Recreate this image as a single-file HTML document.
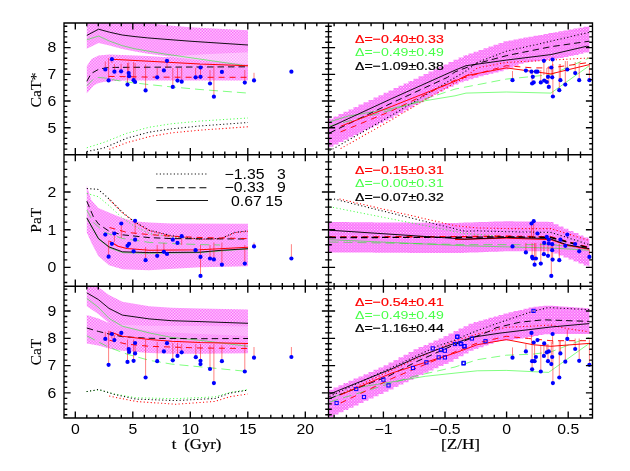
<!DOCTYPE html>
<html><head><meta charset="utf-8"><title>CaT indices</title>
<style>html,body{margin:0;padding:0;background:#fff;}body{width:630px;height:471px;overflow:hidden;font-family:"Liberation Sans",sans-serif;}svg{display:block;will-change:transform;}</style>
</head><body>
<svg width="630" height="471" viewBox="0 0 630 471">
<defs>
<pattern id="h" width="2.9" height="2.9" patternUnits="userSpaceOnUse"><rect width="2.9" height="2.9" fill="#ffdaff"/><rect x="0" y="0" width="1.45" height="1.45" fill="#f95ff9"/><rect x="1.45" y="1.45" width="1.45" height="1.45" fill="#f95ff9"/></pattern>
<pattern id="h2" width="2.9" height="2.9" patternUnits="userSpaceOnUse"><rect width="2.9" height="2.9" fill="#fa5cfa"/><rect x="0" y="0" width="1.2" height="1.2" fill="#ffe4ff"/><rect x="1.45" y="1.45" width="1.2" height="1.2" fill="#ffe4ff"/></pattern>
<clipPath id="cTL"><rect x="64.0" y="23.0" width="264.5" height="131.7"/></clipPath>
<clipPath id="cTR"><rect x="328.5" y="23.0" width="264.0" height="131.7"/></clipPath>
<clipPath id="cML"><rect x="64.0" y="154.7" width="264.5" height="131.5"/></clipPath>
<clipPath id="cMR"><rect x="328.5" y="154.7" width="264.0" height="131.5"/></clipPath>
<clipPath id="cBL"><rect x="64.0" y="286.2" width="264.5" height="131.8"/></clipPath>
<clipPath id="cBR"><rect x="328.5" y="286.2" width="264.0" height="131.8"/></clipPath>
</defs>
<g clip-path="url(#cTL)">
<polygon points="86.8,20.0 140.0,20.0 152.0,23.6 170.0,25.4 190.0,27.2 248.0,30.3 248.0,80.6 200.0,80.6 149.0,80.6 127.0,80.6 115.0,80.9 104.6,81.8 98.0,83.3 93.4,85.8 86.8,93.6 86.8,66.0 91.6,59.0 98.6,55.4 109.5,54.5 122.2,54.9 135.0,55.4 147.7,56.1 164.0,57.0 172.0,56.6 164.0,55.8 147.7,53.8 135.0,51.6 122.2,49.0 109.5,45.6 98.6,43.0 86.8,48.8" fill="url(#h)" />
<polygon points="166.0,56.6 200.0,54.6 248.0,52.2 248.0,64.2 200.0,60.2" fill="#ffffff" opacity="0.38"/>
<polyline points="86.8,35.4 98.6,29.2 109.5,32.2 122.2,35.0 135.0,36.6 147.7,37.9 164.0,39.2 190.0,41.2 248.0,45.0" fill="none" stroke="#000000" stroke-width="0.92" />
<polyline points="86.8,39.8 98.6,36.0 109.5,41.1 122.2,45.6 135.0,48.8 147.7,51.0 164.0,53.9 248.0,66.0" fill="none" stroke="#00ff00" stroke-width="0.5" />
<polyline points="86.8,81.3 91.2,73.5 98.3,69.5 105.7,67.8 115.7,67.4 150.0,67.2 200.0,67.0 248.0,66.8" fill="none" stroke="#000000" stroke-width="0.95" stroke-dasharray="6.5 4" />
<polyline points="86.8,85.8 93.4,79.1 98.3,77.5 105.0,78.0 115.7,80.2 126.9,82.0 149.2,84.6 171.5,86.9 200.0,89.5 248.0,93.1" fill="none" stroke="#00ff00" stroke-width="0.5" stroke-dasharray="9 5" />
<polyline points="108.6,76.4 150.0,77.1 200.0,77.3 248.0,77.3" fill="none" stroke="#ff0000" stroke-width="0.95" stroke-dasharray="6 5" />
<polyline points="112.0,59.2 149.2,61.2 200.0,64.1 248.0,65.7" fill="none" stroke="#ff0000" stroke-width="1.05" />
<polyline points="86.8,147.8 104.4,142.2 126.7,133.3 148.9,127.3 171.1,123.8 199.6,121.1 248.0,118.0" fill="none" stroke="#00ff00" stroke-width="0.75" stroke-dasharray="1.1 2.4" />
<polyline points="86.8,151.6 104.4,147.8 126.7,138.2 148.9,132.2 171.1,128.9 199.6,126.0 248.0,122.5" fill="none" stroke="#000000" stroke-width="1.05" stroke-dasharray="1.1 2.4" />
<polyline points="109.3,149.3 126.7,142.7 148.9,136.7 171.1,132.9 199.6,130.2 248.0,126.8" fill="none" stroke="#ff0000" stroke-width="1.05" stroke-dasharray="1.1 2.4" />
<line x1="105.3" y1="61.5" x2="105.3" y2="69.5" stroke="#ff0000" stroke-width="0.7" stroke-opacity="0.7"/>
<line x1="108.6" y1="58.0" x2="108.6" y2="80.4" stroke="#ff0000" stroke-width="0.7" stroke-opacity="0.7"/>
<line x1="111.9" y1="59.2" x2="111.9" y2="63.0" stroke="#ff0000" stroke-width="0.7" stroke-opacity="0.7"/>
<line x1="114.4" y1="64.0" x2="114.4" y2="71.7" stroke="#ff0000" stroke-width="0.7" stroke-opacity="0.7"/>
<line x1="121.1" y1="64.0" x2="121.1" y2="71.3" stroke="#ff0000" stroke-width="0.7" stroke-opacity="0.7"/>
<line x1="128.7" y1="62.5" x2="128.7" y2="76.2" stroke="#ff0000" stroke-width="0.7" stroke-opacity="0.7"/>
<line x1="127.5" y1="63.0" x2="127.5" y2="84.6" stroke="#ff0000" stroke-width="0.7" stroke-opacity="0.7"/>
<line x1="133.6" y1="62.0" x2="133.6" y2="80.2" stroke="#ff0000" stroke-width="0.7" stroke-opacity="0.7"/>
<line x1="135.1" y1="63.0" x2="135.1" y2="82.0" stroke="#ff0000" stroke-width="0.7" stroke-opacity="0.7"/>
<line x1="145.6" y1="64.5" x2="145.6" y2="90.4" stroke="#ff0000" stroke-width="0.7" stroke-opacity="0.7"/>
<line x1="157.2" y1="68.0" x2="157.2" y2="77.3" stroke="#ff0000" stroke-width="0.7" stroke-opacity="0.7"/>
<line x1="167.0" y1="60.8" x2="167.0" y2="68.0" stroke="#ff0000" stroke-width="0.7" stroke-opacity="0.7"/>
<line x1="172.8" y1="68.0" x2="172.8" y2="86.9" stroke="#ff0000" stroke-width="0.7" stroke-opacity="0.7"/>
<line x1="177.5" y1="68.0" x2="177.5" y2="80.6" stroke="#ff0000" stroke-width="0.7" stroke-opacity="0.7"/>
<line x1="181.7" y1="68.0" x2="181.7" y2="81.7" stroke="#ff0000" stroke-width="0.7" stroke-opacity="0.7"/>
<line x1="195.6" y1="68.0" x2="195.6" y2="77.3" stroke="#ff0000" stroke-width="0.7" stroke-opacity="0.7"/>
<line x1="200.5" y1="67.5" x2="200.5" y2="76.8" stroke="#ff0000" stroke-width="0.7" stroke-opacity="0.7"/>
<line x1="210.0" y1="70.0" x2="210.0" y2="83.5" stroke="#ff0000" stroke-width="0.7" stroke-opacity="0.7"/>
<line x1="213.9" y1="65.7" x2="213.9" y2="96.7" stroke="#ff0000" stroke-width="0.7" stroke-opacity="0.7"/>
<line x1="244.8" y1="70.0" x2="244.8" y2="82.6" stroke="#ff0000" stroke-width="0.7" stroke-opacity="0.7"/>
<line x1="254.0" y1="72.8" x2="254.0" y2="80.4" stroke="#ff0000" stroke-width="0.7" stroke-opacity="0.7"/>
<circle cx="111.9" cy="59.2" r="2.1" fill="#0000ff"/>
<circle cx="105.3" cy="69.5" r="2.1" fill="#0000ff"/>
<circle cx="108.6" cy="80.4" r="2.1" fill="#0000ff"/>
<circle cx="114.4" cy="71.7" r="2.1" fill="#0000ff"/>
<circle cx="121.1" cy="71.3" r="2.1" fill="#0000ff"/>
<circle cx="128.7" cy="73.1" r="2.1" fill="#0000ff"/>
<circle cx="129.1" cy="76.2" r="2.1" fill="#0000ff"/>
<circle cx="127.5" cy="84.6" r="2.1" fill="#0000ff"/>
<circle cx="133.6" cy="80.2" r="2.1" fill="#0000ff"/>
<circle cx="135.1" cy="82.0" r="2.1" fill="#0000ff"/>
<circle cx="145.6" cy="90.4" r="2.1" fill="#0000ff"/>
<circle cx="157.2" cy="77.3" r="2.1" fill="#0000ff"/>
<circle cx="163.9" cy="70.4" r="2.1" fill="#0000ff"/>
<circle cx="167.0" cy="60.8" r="2.1" fill="#0000ff"/>
<circle cx="172.8" cy="86.9" r="2.1" fill="#0000ff"/>
<circle cx="177.5" cy="80.6" r="2.1" fill="#0000ff"/>
<circle cx="181.7" cy="81.7" r="2.1" fill="#0000ff"/>
<circle cx="195.6" cy="77.3" r="2.1" fill="#0000ff"/>
<circle cx="200.5" cy="67.5" r="2.1" fill="#0000ff"/>
<circle cx="200.5" cy="76.8" r="2.1" fill="#0000ff"/>
<circle cx="210.0" cy="83.5" r="2.1" fill="#0000ff"/>
<circle cx="213.9" cy="96.7" r="2.1" fill="#0000ff"/>
<circle cx="221.9" cy="71.9" r="2.1" fill="#0000ff"/>
<circle cx="244.8" cy="82.6" r="2.1" fill="#0000ff"/>
<circle cx="254.0" cy="80.4" r="2.1" fill="#0000ff"/>
<circle cx="291.4" cy="71.7" r="2.1" fill="#0000ff"/>
</g>
<g clip-path="url(#cTR)">
<path d="M328.5,118.8 H333.5 V146.8 H328.5 Z M333.5,116.5 H338.5 V144.4 H333.5 Z M338.5,114.1 H343.5 V142.0 H338.5 Z M343.5,111.7 H348.5 V139.7 H343.5 Z M348.5,109.4 H353.5 V137.3 H348.5 Z M353.5,107.0 H358.5 V134.9 H353.5 Z M358.5,104.6 H363.5 V132.5 H358.5 Z M363.5,102.3 H368.5 V130.1 H363.5 Z M368.5,99.9 H373.5 V127.8 H368.5 Z M373.5,97.6 H378.5 V125.4 H373.5 Z M378.5,95.2 H383.5 V123.0 H378.5 Z M383.5,92.8 H388.5 V120.6 H383.5 Z M388.5,90.5 H393.5 V118.2 H388.5 Z M393.5,88.1 H398.5 V115.6 H393.5 Z M398.5,85.7 H403.5 V113.0 H398.5 Z M403.5,83.4 H408.5 V110.3 H403.5 Z M408.5,81.0 H413.5 V107.6 H408.5 Z M413.5,78.7 H418.5 V105.0 H413.5 Z M418.5,76.3 H423.5 V102.3 H418.5 Z M423.5,73.9 H428.5 V99.6 H423.5 Z M428.5,71.6 H433.5 V97.0 H428.5 Z M433.5,69.2 H438.5 V94.3 H433.5 Z M438.5,66.8 H443.5 V91.6 H438.5 Z M443.5,64.5 H448.5 V89.0 H443.5 Z M448.5,62.1 H453.5 V86.8 H448.5 Z M453.5,59.8 H458.5 V84.5 H453.5 Z M458.5,57.4 H463.5 V82.2 H458.5 Z M463.5,55.2 H468.5 V80.7 H463.5 Z M468.5,53.4 H473.5 V79.2 H468.5 Z M473.5,51.7 H478.5 V77.7 H473.5 Z M478.5,50.0 H483.5 V76.2 H478.5 Z M483.5,48.2 H488.5 V74.9 H483.5 Z M488.5,46.5 H493.5 V73.7 H488.5 Z M493.5,44.8 H498.5 V72.5 H493.5 Z M498.5,43.0 H503.5 V71.2 H498.5 Z M503.5,41.3 H508.5 V69.5 H503.5 Z M508.5,40.4 H513.5 V67.8 H508.5 Z M513.5,39.4 H518.5 V65.8 H513.5 Z M518.5,38.5 H523.5 V63.7 H518.5 Z M523.5,37.6 H528.5 V62.4 H523.5 Z M528.5,36.7 H533.5 V61.7 H528.5 Z M533.5,35.8 H538.5 V61.2 H533.5 Z M538.5,34.9 H543.5 V60.7 H538.5 Z M543.5,34.0 H548.5 V60.1 H543.5 Z M548.5,33.1 H553.5 V59.4 H548.5 Z M553.5,32.2 H558.5 V58.7 H553.5 Z M558.5,31.3 H563.5 V57.9 H558.5 Z M563.5,30.4 H568.5 V57.0 H563.5 Z M568.5,29.5 H573.5 V56.0 H568.5 Z M573.5,28.6 H578.5 V55.1 H573.5 Z M578.5,27.7 H583.5 V53.8 H578.5 Z M583.5,26.8 H588.5 V52.6 H583.5 Z M588.5,26.3 H589.4 V51.9 H588.5 Z" fill="url(#h2)"/>
<polyline points="329.5,121.9 347.3,116.3 391.9,108.5 425.3,100.7 455.0,95.8 466.0,93.1 506.3,92.0 550.9,93.1 589.3,65.7" fill="none" stroke="#00ff00" stroke-width="0.5" />
<polyline points="329.5,126.0 391.9,110.0 403.0,106.3 455.0,89.1 506.3,79.1 550.9,74.6 566.5,67.9 589.3,57.9" fill="none" stroke="#00ff00" stroke-width="0.5" stroke-dasharray="9 5" />
<polyline points="329.5,150.9 391.9,115.2 436.5,88.4 465.0,71.7 477.3,62.4 506.3,51.2 550.9,41.2 589.3,32.3" fill="none" stroke="#000000" stroke-width="1.05" stroke-dasharray="1.1 2.4" />
<polyline points="340.6,148.6 391.9,119.6 425.3,99.6 465.0,77.3 477.3,67.9 506.3,62.4 550.9,60.1 589.3,57.9" fill="none" stroke="#ff0000" stroke-width="1.05" stroke-dasharray="1.1 2.4" />
<polyline points="329.5,133.0 391.9,102.9 447.6,77.3 455.0,71.9 477.3,63.5 506.3,55.7 550.9,46.7 589.3,41.2" fill="none" stroke="#000000" stroke-width="0.95" stroke-dasharray="6.5 4" />
<polyline points="340.6,131.9 391.9,110.7 455.0,80.2 506.3,65.7 533.0,67.9 550.9,67.9 589.3,62.4" fill="none" stroke="#ff0000" stroke-width="0.95" stroke-dasharray="6 5" />
<polyline points="329.5,127.4 391.9,98.5 455.0,70.2 466.0,65.7 506.3,60.1 550.9,54.6 586.5,46.3 589.3,46.7" fill="none" stroke="#000000" stroke-width="0.92" />
<polyline points="340.6,126.3 391.9,106.3 455.0,81.3 466.0,75.7 506.3,67.9 550.9,73.9 589.3,64.6" fill="none" stroke="#ff0000" stroke-width="0.98" />
<line x1="512.5" y1="71.0" x2="512.5" y2="80.2" stroke="#ff0000" stroke-width="0.7" stroke-opacity="0.7"/>
<line x1="532.1" y1="70.0" x2="532.1" y2="83.5" stroke="#ff0000" stroke-width="0.7" stroke-opacity="0.7"/>
<line x1="540.8" y1="70.0" x2="540.8" y2="82.4" stroke="#ff0000" stroke-width="0.7" stroke-opacity="0.7"/>
<line x1="543.9" y1="60.8" x2="543.9" y2="75.0" stroke="#ff0000" stroke-width="0.7" stroke-opacity="0.7"/>
<line x1="546.8" y1="68.0" x2="546.8" y2="82.0" stroke="#ff0000" stroke-width="0.7" stroke-opacity="0.7"/>
<line x1="548.8" y1="66.0" x2="548.8" y2="86.9" stroke="#ff0000" stroke-width="0.7" stroke-opacity="0.7"/>
<line x1="552.6" y1="59.5" x2="552.6" y2="76.0" stroke="#ff0000" stroke-width="0.7" stroke-opacity="0.7"/>
<line x1="552.9" y1="64.0" x2="552.9" y2="96.5" stroke="#ff0000" stroke-width="0.7" stroke-opacity="0.7"/>
<line x1="559.3" y1="64.0" x2="559.3" y2="90.2" stroke="#ff0000" stroke-width="0.7" stroke-opacity="0.7"/>
<line x1="560.4" y1="64.0" x2="560.4" y2="80.2" stroke="#ff0000" stroke-width="0.7" stroke-opacity="0.7"/>
<line x1="565.3" y1="61.0" x2="565.3" y2="84.6" stroke="#ff0000" stroke-width="0.7" stroke-opacity="0.7"/>
<line x1="567.3" y1="61.0" x2="567.3" y2="69.5" stroke="#ff0000" stroke-width="0.7" stroke-opacity="0.7"/>
<line x1="575.2" y1="62.0" x2="575.2" y2="73.1" stroke="#ff0000" stroke-width="0.7" stroke-opacity="0.7"/>
<line x1="579.2" y1="62.0" x2="579.2" y2="80.2" stroke="#ff0000" stroke-width="0.7" stroke-opacity="0.7"/>
<line x1="589.4" y1="63.0" x2="589.4" y2="80.2" stroke="#ff0000" stroke-width="0.7" stroke-opacity="0.7"/>
<line x1="551.3" y1="67.5" x2="551.3" y2="75.0" stroke="#ff0000" stroke-width="0.7" stroke-opacity="0.7"/>
<circle cx="512.5" cy="80.2" r="2.1" fill="#0000ff"/>
<circle cx="525.9" cy="70.6" r="2.1" fill="#0000ff"/>
<circle cx="531.5" cy="71.7" r="2.1" fill="#0000ff"/>
<circle cx="532.8" cy="76.8" r="2.1" fill="#0000ff"/>
<circle cx="532.1" cy="83.5" r="2.1" fill="#0000ff"/>
<circle cx="533.7" cy="82.4" r="2.1" fill="#0000ff"/>
<circle cx="535.9" cy="71.7" r="2.1" fill="#0000ff"/>
<circle cx="537.5" cy="71.7" r="2.1" fill="#0000ff"/>
<circle cx="540.8" cy="82.4" r="2.1" fill="#0000ff"/>
<circle cx="544.2" cy="80.6" r="2.1" fill="#0000ff"/>
<circle cx="543.9" cy="60.8" r="2.1" fill="#0000ff"/>
<circle cx="546.8" cy="82.0" r="2.1" fill="#0000ff"/>
<circle cx="548.0" cy="76.8" r="2.1" fill="#0000ff"/>
<circle cx="548.8" cy="86.9" r="2.1" fill="#0000ff"/>
<circle cx="551.3" cy="67.5" r="2.1" fill="#0000ff"/>
<circle cx="552.2" cy="77.3" r="2.1" fill="#0000ff"/>
<circle cx="552.6" cy="59.5" r="2.1" fill="#0000ff"/>
<circle cx="552.9" cy="96.5" r="2.1" fill="#0000ff"/>
<circle cx="559.3" cy="90.2" r="2.1" fill="#0000ff"/>
<circle cx="560.4" cy="80.2" r="2.1" fill="#0000ff"/>
<circle cx="565.3" cy="84.6" r="2.1" fill="#0000ff"/>
<circle cx="567.3" cy="69.5" r="2.1" fill="#0000ff"/>
<circle cx="575.2" cy="73.1" r="2.1" fill="#0000ff"/>
<circle cx="579.2" cy="80.2" r="2.1" fill="#0000ff"/>
<circle cx="589.4" cy="80.2" r="2.1" fill="#0000ff"/>
</g>
<g clip-path="url(#cML)">
<polygon points="86.8,185.6 91.2,200.0 98.3,207.9 111.3,213.4 122.4,217.9 133.6,221.2 149.2,222.4 171.5,223.5 248.0,223.8 248.0,266.2 200.0,267.3 165.0,269.3 149.2,270.3 122.4,269.3 109.0,265.3 98.3,256.0 92.0,244.0 86.8,232.8" fill="url(#h)" />
<polyline points="86.8,193.4 98.3,196.7 109.0,205.6 122.4,217.9 133.6,225.7 149.2,233.5 171.5,237.0 200.0,239.1" fill="none" stroke="#00ff00" stroke-width="0.75" stroke-dasharray="1.1 2.4" />
<polyline points="86.8,210.0 93.4,222.4 104.6,232.4 122.4,238.4 149.2,242.4 171.5,243.5 200.0,244.6 220.0,245.0" fill="none" stroke="#00ff00" stroke-width="0.5" stroke-dasharray="9 5" />
<polyline points="86.8,188.5 98.3,189.4 109.0,198.9 122.4,212.3 133.6,221.2 149.2,230.2 171.5,235.7 200.0,239.1 221.2,238.4 234.6,232.4 248.0,230.8" fill="none" stroke="#000000" stroke-width="1.05" stroke-dasharray="1.1 2.4" />
<polyline points="109.5,199.6 122.4,212.7 133.6,221.6 149.2,230.6 171.5,236.1 200.0,239.4 221.2,238.7 234.6,232.8 248.0,231.2" fill="none" stroke="#ff0000" stroke-width="1.05" stroke-dasharray="1.1 2.4" />
<polyline points="86.8,201.2 93.4,216.8 98.3,223.8 109.0,231.2 122.4,234.8 149.2,237.6 171.5,238.6 200.0,238.8 248.0,239.0" fill="none" stroke="#000000" stroke-width="0.95" stroke-dasharray="6.5 4" />
<polyline points="109.5,227.5 126.9,232.4 149.2,234.6 171.5,236.2 200.0,237.5 248.0,238.6" fill="none" stroke="#ff0000" stroke-width="0.95" stroke-dasharray="6 5" />
<polyline points="87.4,219.0 98.9,239.4 109.6,247.9 123.0,252.7 149.2,253.3 200.0,252.6 248.0,248.8" fill="none" stroke="#00ff00" stroke-width="0.5" />
<polyline points="109.5,241.3 118.0,246.2 126.9,248.4 149.2,250.3 200.0,249.8 248.0,247.2" fill="none" stroke="#ff0000" stroke-width="1.05" />
<polyline points="86.8,217.9 98.3,238.4 109.0,246.9 122.4,251.8 149.2,252.6 200.0,252.2 220.0,250.4 248.0,248.7" fill="none" stroke="#000000" stroke-width="0.92" />
<line x1="108.6" y1="240.5" x2="108.6" y2="256.7" stroke="#ff0000" stroke-width="0.7" stroke-opacity="0.7"/>
<line x1="121.3" y1="223.5" x2="121.3" y2="238.0" stroke="#ff0000" stroke-width="0.7" stroke-opacity="0.7"/>
<line x1="135.1" y1="220.8" x2="135.1" y2="234.0" stroke="#ff0000" stroke-width="0.7" stroke-opacity="0.7"/>
<line x1="145.6" y1="247.0" x2="145.6" y2="260.2" stroke="#ff0000" stroke-width="0.7" stroke-opacity="0.7"/>
<line x1="157.2" y1="245.0" x2="157.2" y2="255.8" stroke="#ff0000" stroke-width="0.7" stroke-opacity="0.7"/>
<line x1="163.9" y1="243.0" x2="163.9" y2="251.8" stroke="#ff0000" stroke-width="0.7" stroke-opacity="0.7"/>
<line x1="181.7" y1="236.2" x2="181.7" y2="245.0" stroke="#ff0000" stroke-width="0.7" stroke-opacity="0.7"/>
<line x1="114.4" y1="233.5" x2="114.4" y2="242.0" stroke="#ff0000" stroke-width="0.7" stroke-opacity="0.7"/>
<line x1="200.5" y1="245.0" x2="200.5" y2="275.9" stroke="#ff0000" stroke-width="0.7" stroke-opacity="0.7"/>
<line x1="210.0" y1="245.0" x2="210.0" y2="258.5" stroke="#ff0000" stroke-width="0.7" stroke-opacity="0.7"/>
<line x1="213.9" y1="242.5" x2="213.9" y2="259.4" stroke="#ff0000" stroke-width="0.7" stroke-opacity="0.7"/>
<line x1="221.9" y1="242.5" x2="221.9" y2="264.7" stroke="#ff0000" stroke-width="0.7" stroke-opacity="0.7"/>
<line x1="244.8" y1="245.0" x2="244.8" y2="263.6" stroke="#ff0000" stroke-width="0.7" stroke-opacity="0.7"/>
<line x1="254.0" y1="242.5" x2="254.0" y2="246.4" stroke="#ff0000" stroke-width="0.7" stroke-opacity="0.7"/>
<line x1="291.4" y1="244.2" x2="291.4" y2="258.5" stroke="#ff0000" stroke-width="0.7" stroke-opacity="0.7"/>
<circle cx="105.3" cy="234.6" r="2.1" fill="#0000ff"/>
<circle cx="108.6" cy="256.7" r="2.1" fill="#0000ff"/>
<circle cx="111.9" cy="243.8" r="2.1" fill="#0000ff"/>
<circle cx="114.4" cy="233.5" r="2.1" fill="#0000ff"/>
<circle cx="121.3" cy="223.5" r="2.1" fill="#0000ff"/>
<circle cx="127.5" cy="245.8" r="2.1" fill="#0000ff"/>
<circle cx="129.1" cy="243.8" r="2.1" fill="#0000ff"/>
<circle cx="133.6" cy="251.3" r="2.1" fill="#0000ff"/>
<circle cx="135.1" cy="220.8" r="2.1" fill="#0000ff"/>
<circle cx="135.1" cy="239.7" r="2.1" fill="#0000ff"/>
<circle cx="145.6" cy="260.2" r="2.1" fill="#0000ff"/>
<circle cx="157.2" cy="255.8" r="2.1" fill="#0000ff"/>
<circle cx="163.9" cy="251.8" r="2.1" fill="#0000ff"/>
<circle cx="167.0" cy="254.0" r="2.1" fill="#0000ff"/>
<circle cx="172.8" cy="239.7" r="2.1" fill="#0000ff"/>
<circle cx="177.5" cy="242.9" r="2.1" fill="#0000ff"/>
<circle cx="181.7" cy="236.2" r="2.1" fill="#0000ff"/>
<circle cx="195.6" cy="250.2" r="2.1" fill="#0000ff"/>
<circle cx="200.5" cy="256.9" r="2.1" fill="#0000ff"/>
<circle cx="200.5" cy="275.9" r="2.1" fill="#0000ff"/>
<circle cx="210.0" cy="258.5" r="2.1" fill="#0000ff"/>
<circle cx="213.9" cy="259.4" r="2.1" fill="#0000ff"/>
<circle cx="221.9" cy="264.7" r="2.1" fill="#0000ff"/>
<circle cx="244.8" cy="263.6" r="2.1" fill="#0000ff"/>
<circle cx="254.0" cy="246.4" r="2.1" fill="#0000ff"/>
<circle cx="291.4" cy="258.5" r="2.1" fill="#0000ff"/>
<polyline points="156.3,174.0 208.0,174.0" fill="none" stroke="#000000" stroke-width="1.05" stroke-dasharray="1.1 2.4" />
<polyline points="156.3,187.8 208.0,187.8" fill="none" stroke="#000000" stroke-width="1.05" stroke-dasharray="6.9 3.9" />
<polyline points="156.3,200.5 208.0,200.5" fill="none" stroke="#000000" stroke-width="0.92" />
</g>
<g clip-path="url(#cMR)">
<path d="M328.5,222.0 H333.5 V252.4 H328.5 Z M333.5,222.1 H338.5 V252.4 H333.5 Z M338.5,222.1 H343.5 V252.5 H338.5 Z M343.5,222.1 H348.5 V252.5 H343.5 Z M348.5,222.2 H353.5 V252.5 H348.5 Z M353.5,222.2 H358.5 V252.6 H353.5 Z M358.5,222.3 H363.5 V252.6 H358.5 Z M363.5,222.3 H368.5 V252.6 H363.5 Z M368.5,222.3 H373.5 V252.6 H368.5 Z M373.5,222.4 H378.5 V252.7 H373.5 Z M378.5,222.4 H383.5 V252.7 H378.5 Z M383.5,222.5 H388.5 V252.7 H383.5 Z M388.5,222.5 H393.5 V252.7 H388.5 Z M393.5,222.5 H398.5 V252.8 H393.5 Z M398.5,222.6 H403.5 V252.8 H398.5 Z M403.5,222.6 H408.5 V252.8 H403.5 Z M408.5,222.7 H413.5 V252.9 H408.5 Z M413.5,222.7 H418.5 V252.9 H413.5 Z M418.5,222.7 H423.5 V252.9 H418.5 Z M423.5,222.8 H428.5 V252.9 H423.5 Z M428.5,222.8 H433.5 V253.0 H428.5 Z M433.5,222.8 H438.5 V253.0 H433.5 Z M438.5,222.9 H443.5 V253.0 H438.5 Z M443.5,222.9 H448.5 V253.1 H443.5 Z M448.5,223.0 H453.5 V253.1 H448.5 Z M453.5,223.0 H458.5 V253.1 H453.5 Z M458.5,222.8 H463.5 V252.9 H458.5 Z M463.5,222.6 H468.5 V252.7 H463.5 Z M468.5,222.4 H473.5 V252.5 H468.5 Z M473.5,222.3 H478.5 V252.4 H473.5 Z M478.5,222.1 H483.5 V252.2 H478.5 Z M483.5,221.9 H488.5 V252.0 H483.5 Z M488.5,221.7 H493.5 V251.8 H488.5 Z M493.5,221.6 H498.5 V251.7 H493.5 Z M498.5,221.4 H503.5 V251.5 H498.5 Z M503.5,221.2 H508.5 V251.3 H503.5 Z M508.5,221.3 H513.5 V251.3 H508.5 Z M513.5,221.4 H518.5 V251.3 H513.5 Z M518.5,221.4 H523.5 V251.3 H518.5 Z M523.5,221.5 H528.5 V251.3 H523.5 Z M528.5,221.6 H533.5 V251.3 H528.5 Z M533.5,221.7 H538.5 V251.3 H533.5 Z M538.5,221.7 H543.5 V251.3 H538.5 Z M543.5,221.8 H548.5 V251.3 H543.5 Z M548.5,221.9 H553.5 V251.3 H548.5 Z M553.5,224.2 H558.5 V253.4 H553.5 Z M558.5,226.4 H563.5 V255.4 H558.5 Z M563.5,228.7 H568.5 V257.4 H563.5 Z M568.5,230.9 H573.5 V259.5 H568.5 Z M573.5,233.1 H578.5 V261.5 H573.5 Z M578.5,235.4 H583.5 V263.5 H578.5 Z M583.5,237.6 H588.5 V265.6 H583.5 Z M588.5,238.9 H589.4 V266.8 H588.5 Z" fill="url(#h2)"/>
<polyline points="329.5,206.7 465.0,233.5 500.0,236.0" fill="none" stroke="#00ff00" stroke-width="0.75" stroke-dasharray="1.1 2.4" />
<polyline points="329.5,239.7 465.0,245.8 550.9,248.0 589.3,250.2" fill="none" stroke="#00ff00" stroke-width="0.5" />
<polyline points="329.5,242.0 465.0,244.6 550.9,244.6 575.0,247.0" fill="none" stroke="#00ff00" stroke-width="0.5" stroke-dasharray="9 5" />
<polyline points="334.0,199.0 465.0,231.3 477.3,230.8 506.3,231.7 550.9,232.4 589.3,244.6" fill="none" stroke="#000000" stroke-width="1.05" stroke-dasharray="1.1 2.4" />
<polyline points="339.5,199.0 455.0,225.7 477.3,227.9 506.3,228.6 550.9,228.6 589.3,240.6" fill="none" stroke="#ff0000" stroke-width="1.05" stroke-dasharray="1.1 2.4" />
<polyline points="455.0,239.6 506.3,238.1 550.9,239.7 566.5,245.2 589.3,249.3" fill="none" stroke="#ff0000" stroke-width="1.0" />
<polyline points="329.5,237.0 465.0,236.6 506.3,236.2 550.9,236.9 589.3,247.6" fill="none" stroke="#ff0000" stroke-width="1.4" stroke-dasharray="6 5" />
<polyline points="329.5,237.5 465.0,237.3 506.3,236.8 550.9,237.5 589.3,248.0" fill="none" stroke="#000000" stroke-width="1.4" stroke-dasharray="6.5 4" />
<polyline points="329.5,230.2 465.0,239.1 506.3,237.5 544.2,238.4 550.9,239.1 566.5,244.6 589.3,248.7" fill="none" stroke="#000000" stroke-width="0.95" />
<line x1="525.9" y1="243.0" x2="525.9" y2="252.4" stroke="#ff0000" stroke-width="0.7" stroke-opacity="0.7"/>
<line x1="531.5" y1="223.5" x2="531.5" y2="238.0" stroke="#ff0000" stroke-width="0.7" stroke-opacity="0.7"/>
<line x1="533.7" y1="221.2" x2="533.7" y2="238.0" stroke="#ff0000" stroke-width="0.7" stroke-opacity="0.7"/>
<line x1="532.1" y1="243.0" x2="532.1" y2="256.9" stroke="#ff0000" stroke-width="0.7" stroke-opacity="0.7"/>
<line x1="534.6" y1="243.0" x2="534.6" y2="264.7" stroke="#ff0000" stroke-width="0.7" stroke-opacity="0.7"/>
<line x1="535.9" y1="243.0" x2="535.9" y2="258.5" stroke="#ff0000" stroke-width="0.7" stroke-opacity="0.7"/>
<line x1="540.8" y1="243.0" x2="540.8" y2="263.6" stroke="#ff0000" stroke-width="0.7" stroke-opacity="0.7"/>
<line x1="543.9" y1="243.0" x2="543.9" y2="254.2" stroke="#ff0000" stroke-width="0.7" stroke-opacity="0.7"/>
<line x1="548.0" y1="243.0" x2="548.0" y2="255.8" stroke="#ff0000" stroke-width="0.7" stroke-opacity="0.7"/>
<line x1="551.3" y1="243.0" x2="551.3" y2="275.9" stroke="#ff0000" stroke-width="0.7" stroke-opacity="0.7"/>
<line x1="552.6" y1="244.0" x2="552.6" y2="259.6" stroke="#ff0000" stroke-width="0.7" stroke-opacity="0.7"/>
<line x1="559.3" y1="244.0" x2="559.3" y2="260.2" stroke="#ff0000" stroke-width="0.7" stroke-opacity="0.7"/>
<line x1="589.4" y1="250.0" x2="589.4" y2="256.9" stroke="#ff0000" stroke-width="0.7" stroke-opacity="0.7"/>
<line x1="579.2" y1="247.0" x2="579.2" y2="251.3" stroke="#ff0000" stroke-width="0.7" stroke-opacity="0.7"/>
<circle cx="512.5" cy="246.4" r="2.1" fill="#0000ff"/>
<circle cx="525.9" cy="252.4" r="2.1" fill="#0000ff"/>
<circle cx="531.5" cy="223.5" r="2.1" fill="#0000ff"/>
<circle cx="533.7" cy="221.2" r="2.1" fill="#0000ff"/>
<circle cx="532.1" cy="256.9" r="2.1" fill="#0000ff"/>
<circle cx="532.8" cy="258.5" r="2.1" fill="#0000ff"/>
<circle cx="534.6" cy="264.7" r="2.1" fill="#0000ff"/>
<circle cx="535.9" cy="258.5" r="2.1" fill="#0000ff"/>
<circle cx="537.5" cy="233.5" r="2.1" fill="#0000ff"/>
<circle cx="540.8" cy="263.6" r="2.1" fill="#0000ff"/>
<circle cx="544.2" cy="242.9" r="2.1" fill="#0000ff"/>
<circle cx="543.9" cy="254.2" r="2.1" fill="#0000ff"/>
<circle cx="546.8" cy="236.8" r="2.1" fill="#0000ff"/>
<circle cx="548.0" cy="255.8" r="2.1" fill="#0000ff"/>
<circle cx="548.8" cy="239.7" r="2.1" fill="#0000ff"/>
<circle cx="548.8" cy="243.5" r="2.1" fill="#0000ff"/>
<circle cx="552.2" cy="244.2" r="2.1" fill="#0000ff"/>
<circle cx="552.2" cy="250.2" r="2.1" fill="#0000ff"/>
<circle cx="552.6" cy="259.6" r="2.1" fill="#0000ff"/>
<circle cx="551.3" cy="275.9" r="2.1" fill="#0000ff"/>
<circle cx="559.3" cy="260.2" r="2.1" fill="#0000ff"/>
<circle cx="560.4" cy="239.7" r="2.1" fill="#0000ff"/>
<circle cx="565.3" cy="245.8" r="2.1" fill="#0000ff"/>
<circle cx="567.3" cy="234.6" r="2.1" fill="#0000ff"/>
<circle cx="575.2" cy="244.0" r="2.1" fill="#0000ff"/>
<circle cx="579.2" cy="251.3" r="2.1" fill="#0000ff"/>
<circle cx="589.4" cy="256.9" r="2.1" fill="#0000ff"/>
</g>
<g clip-path="url(#cBL)">
<polygon points="86.8,280.0 97.0,280.0 97.9,286.8 109.0,295.0 122.4,301.7 149.2,306.2 171.5,307.7 200.0,308.4 248.0,309.5 248.0,353.2 200.0,353.7 171.5,353.7 149.2,353.1 122.4,350.8 109.0,348.4 98.3,345.5 86.8,343.6 86.8,315.1 98.3,318.4 109.0,322.9 112.0,324.5 109.0,322.9 98.3,314.0 86.8,306.2" fill="url(#h)" />
<polygon points="113.0,324.6 150.0,325.8 200.0,326.0 248.0,326.5 248.0,336.0 200.0,334.0 150.0,331.3" fill="#ffffff" opacity="0.25"/>
<polyline points="86.8,298.4 98.3,307.3 109.0,318.4 122.4,326.2 149.2,332.9 171.5,337.4 200.0,340.3 248.0,346.3" fill="none" stroke="#00ff00" stroke-width="0.5" />
<polyline points="86.8,335.8 98.3,341.8 109.0,347.4 126.9,354.1 149.2,360.3 171.5,364.1 200.0,366.8 248.0,371.5" fill="none" stroke="#00ff00" stroke-width="0.5" stroke-dasharray="9 5" />
<polyline points="86.8,292.8 98.3,299.5 109.0,308.4 122.4,315.1 149.2,318.9 171.5,320.7 200.0,321.6 248.0,323.3" fill="none" stroke="#000000" stroke-width="0.92" />
<polyline points="86.8,328.0 98.3,331.4 109.0,334.0 122.4,336.7 149.2,338.3 200.0,338.7 248.0,338.5" fill="none" stroke="#000000" stroke-width="0.95" stroke-dasharray="6.5 4" />
<polyline points="109.5,331.8 122.4,336.3 149.2,339.6 171.5,341.2 200.0,342.5 248.0,343.4" fill="none" stroke="#ff0000" stroke-width="1.05" />
<polyline points="109.5,340.3 126.9,344.1 149.2,346.3 200.0,348.0 248.0,348.5" fill="none" stroke="#ff0000" stroke-width="0.95" stroke-dasharray="6 5" />
<polyline points="86.6,391.6 98.6,389.8 115.2,394.2 136.3,397.8 175.5,398.7 214.8,396.9 229.8,392.5 247.9,389.6" fill="none" stroke="#00ff00" stroke-width="0.75" stroke-dasharray="1.1 2.4" />
<polyline points="86.6,391.6 98.6,389.5 115.2,394.6 136.3,399.1 175.5,400.6 214.8,398.5 229.8,393.1 247.9,390.1" fill="none" stroke="#000000" stroke-width="1.05" stroke-dasharray="1.1 2.4" />
<polyline points="109.2,396.1 136.3,401.5 175.5,404.3 214.8,401.5 229.8,396.7 247.9,394.0" fill="none" stroke="#ff0000" stroke-width="1.05" stroke-dasharray="1.1 2.4" />
<line x1="105.3" y1="331.8" x2="105.3" y2="338.9" stroke="#ff0000" stroke-width="0.7" stroke-opacity="0.7"/>
<line x1="108.6" y1="330.7" x2="108.6" y2="364.8" stroke="#ff0000" stroke-width="0.7" stroke-opacity="0.7"/>
<line x1="111.9" y1="334.0" x2="111.9" y2="338.5" stroke="#ff0000" stroke-width="0.7" stroke-opacity="0.7"/>
<line x1="114.4" y1="335.0" x2="114.4" y2="340.1" stroke="#ff0000" stroke-width="0.7" stroke-opacity="0.7"/>
<line x1="127.5" y1="339.6" x2="127.5" y2="361.9" stroke="#ff0000" stroke-width="0.7" stroke-opacity="0.7"/>
<line x1="133.6" y1="339.6" x2="133.6" y2="360.8" stroke="#ff0000" stroke-width="0.7" stroke-opacity="0.7"/>
<line x1="135.1" y1="343.0" x2="135.1" y2="353.4" stroke="#ff0000" stroke-width="0.7" stroke-opacity="0.7"/>
<line x1="145.6" y1="339.6" x2="145.6" y2="377.5" stroke="#ff0000" stroke-width="0.7" stroke-opacity="0.7"/>
<line x1="157.2" y1="341.8" x2="157.2" y2="361.2" stroke="#ff0000" stroke-width="0.7" stroke-opacity="0.7"/>
<line x1="172.8" y1="343.0" x2="172.8" y2="360.3" stroke="#ff0000" stroke-width="0.7" stroke-opacity="0.7"/>
<line x1="177.5" y1="343.0" x2="177.5" y2="355.9" stroke="#ff0000" stroke-width="0.7" stroke-opacity="0.7"/>
<line x1="181.7" y1="344.0" x2="181.7" y2="352.3" stroke="#ff0000" stroke-width="0.7" stroke-opacity="0.7"/>
<line x1="195.8" y1="344.0" x2="195.8" y2="357.2" stroke="#ff0000" stroke-width="0.7" stroke-opacity="0.7"/>
<line x1="200.5" y1="344.0" x2="200.5" y2="360.8" stroke="#ff0000" stroke-width="0.7" stroke-opacity="0.7"/>
<line x1="210.0" y1="345.2" x2="210.0" y2="369.0" stroke="#ff0000" stroke-width="0.7" stroke-opacity="0.7"/>
<line x1="213.9" y1="344.0" x2="213.9" y2="383.1" stroke="#ff0000" stroke-width="0.7" stroke-opacity="0.7"/>
<line x1="221.9" y1="345.2" x2="221.9" y2="361.2" stroke="#ff0000" stroke-width="0.7" stroke-opacity="0.7"/>
<line x1="244.8" y1="344.0" x2="244.8" y2="371.5" stroke="#ff0000" stroke-width="0.7" stroke-opacity="0.7"/>
<line x1="254.0" y1="347.0" x2="254.0" y2="357.7" stroke="#ff0000" stroke-width="0.7" stroke-opacity="0.7"/>
<line x1="291.4" y1="347.0" x2="291.4" y2="357.0" stroke="#ff0000" stroke-width="0.7" stroke-opacity="0.7"/>
<circle cx="105.3" cy="338.9" r="2.1" fill="#0000ff"/>
<circle cx="108.6" cy="364.8" r="2.1" fill="#0000ff"/>
<circle cx="111.9" cy="334.0" r="2.1" fill="#0000ff"/>
<circle cx="114.4" cy="340.1" r="2.1" fill="#0000ff"/>
<circle cx="121.3" cy="332.9" r="2.1" fill="#0000ff"/>
<circle cx="127.5" cy="361.9" r="2.1" fill="#0000ff"/>
<circle cx="128.7" cy="349.0" r="2.1" fill="#0000ff"/>
<circle cx="129.1" cy="351.9" r="2.1" fill="#0000ff"/>
<circle cx="133.6" cy="360.8" r="2.1" fill="#0000ff"/>
<circle cx="135.1" cy="343.0" r="2.1" fill="#0000ff"/>
<circle cx="135.1" cy="353.4" r="2.1" fill="#0000ff"/>
<circle cx="145.6" cy="377.5" r="2.1" fill="#0000ff"/>
<circle cx="157.2" cy="361.2" r="2.1" fill="#0000ff"/>
<circle cx="163.9" cy="351.4" r="2.1" fill="#0000ff"/>
<circle cx="167.0" cy="343.2" r="2.1" fill="#0000ff"/>
<circle cx="172.8" cy="360.3" r="2.1" fill="#0000ff"/>
<circle cx="177.5" cy="355.9" r="2.1" fill="#0000ff"/>
<circle cx="181.7" cy="352.3" r="2.1" fill="#0000ff"/>
<circle cx="195.8" cy="357.2" r="2.1" fill="#0000ff"/>
<circle cx="200.5" cy="360.8" r="2.1" fill="#0000ff"/>
<circle cx="200.5" cy="364.1" r="2.1" fill="#0000ff"/>
<circle cx="210.0" cy="369.0" r="2.1" fill="#0000ff"/>
<circle cx="213.9" cy="383.1" r="2.1" fill="#0000ff"/>
<circle cx="221.9" cy="361.2" r="2.1" fill="#0000ff"/>
<circle cx="244.8" cy="371.5" r="2.1" fill="#0000ff"/>
<circle cx="254.0" cy="357.7" r="2.1" fill="#0000ff"/>
<circle cx="291.4" cy="357.0" r="2.1" fill="#0000ff"/>
</g>
<g clip-path="url(#cBR)">
<path d="M328.5,389.7 H333.5 V416.9 H328.5 Z M333.5,387.5 H338.5 V414.6 H333.5 Z M338.5,385.3 H343.5 V412.3 H338.5 Z M343.5,383.0 H348.5 V410.0 H343.5 Z M348.5,380.8 H353.5 V407.7 H348.5 Z M353.5,378.6 H358.5 V405.4 H353.5 Z M358.5,376.4 H363.5 V403.1 H358.5 Z M363.5,374.2 H368.5 V400.8 H363.5 Z M368.5,372.0 H373.5 V398.6 H368.5 Z M373.5,369.7 H378.5 V396.3 H373.5 Z M378.5,367.5 H383.5 V394.0 H378.5 Z M383.5,365.3 H388.5 V391.7 H383.5 Z M388.5,362.6 H393.5 V389.4 H388.5 Z M393.5,360.0 H398.5 V387.0 H393.5 Z M398.5,357.3 H403.5 V384.6 H398.5 Z M403.5,354.7 H408.5 V382.2 H403.5 Z M408.5,352.0 H413.5 V379.8 H408.5 Z M413.5,349.3 H418.5 V377.4 H413.5 Z M418.5,347.1 H423.5 V375.1 H418.5 Z M423.5,344.9 H428.5 V372.8 H423.5 Z M428.5,342.8 H433.5 V370.5 H428.5 Z M433.5,340.6 H438.5 V368.3 H433.5 Z M438.5,338.5 H443.5 V366.0 H438.5 Z M443.5,336.1 H448.5 V363.9 H443.5 Z M448.5,333.6 H453.5 V361.8 H448.5 Z M453.5,331.1 H458.5 V359.1 H453.5 Z M458.5,328.6 H463.5 V356.3 H458.5 Z M463.5,326.2 H468.5 V353.6 H463.5 Z M468.5,323.7 H473.5 V350.8 H468.5 Z M473.5,322.1 H478.5 V348.9 H473.5 Z M478.5,320.7 H483.5 V347.2 H478.5 Z M483.5,319.2 H488.5 V345.5 H483.5 Z M488.5,317.8 H493.5 V343.7 H488.5 Z M493.5,316.4 H498.5 V342.0 H493.5 Z M498.5,315.0 H503.5 V340.9 H498.5 Z M503.5,313.6 H508.5 V340.4 H503.5 Z M508.5,312.3 H513.5 V339.9 H508.5 Z M513.5,311.0 H518.5 V339.2 H513.5 Z M518.5,309.9 H523.5 V338.5 H518.5 Z M523.5,308.7 H528.5 V337.8 H523.5 Z M528.5,307.5 H533.5 V336.9 H528.5 Z M533.5,306.7 H538.5 V335.9 H533.5 Z M538.5,306.2 H543.5 V335.0 H538.5 Z M543.5,305.7 H548.5 V334.3 H543.5 Z M548.5,305.7 H553.5 V334.2 H548.5 Z M553.5,306.0 H558.5 V334.1 H553.5 Z M558.5,306.4 H563.5 V334.0 H558.5 Z M563.5,306.7 H568.5 V334.0 H563.5 Z M568.5,307.1 H573.5 V334.0 H568.5 Z M573.5,307.5 H578.5 V334.0 H573.5 Z M578.5,307.8 H583.5 V334.0 H578.5 Z M583.5,308.2 H588.5 V334.0 H583.5 Z M588.5,308.4 H589.4 V334.0 H588.5 Z" fill="url(#h2)"/>
<polyline points="329.5,398.6 358.4,387.4 391.9,381.9 425.3,376.3 455.0,373.1 477.3,370.8 506.3,370.4 548.6,372.4 589.3,343.4" fill="none" stroke="#00ff00" stroke-width="0.5" />
<polyline points="329.5,402.0 391.9,383.0 414.2,376.3 455.0,367.0 477.3,359.7 506.3,355.2 533.0,354.1 550.9,351.9 570.9,344.1 589.3,337.4" fill="none" stroke="#00ff00" stroke-width="0.5" stroke-dasharray="9 5" />
<polyline points="329.5,396.4 391.9,367.4 417.0,355.5 438.0,346.0 455.0,340.0 472.0,332.6 496.0,323.8 533.3,311.1 548.4,307.6 589.3,309.6" fill="none" stroke="#000000" stroke-width="1.05" stroke-dasharray="1.1 2.4" />
<polyline points="340.6,394.1 391.9,370.0 455.0,341.0 477.3,334.0 506.3,327.4 550.9,325.1 566.5,328.5 589.3,331.8" fill="none" stroke="#ff0000" stroke-width="1.05" stroke-dasharray="1.1 2.4" />
<polyline points="329.5,398.6 388.0,376.4 416.8,361.5 455.0,344.5 472.0,338.0 490.0,331.0 496.0,327.8 519.8,322.2 543.6,319.8 589.3,321.4" fill="none" stroke="#000000" stroke-width="0.95" stroke-dasharray="6.5 4" />
<polyline points="340.6,403.0 391.9,378.5 455.0,351.9 477.3,343.0 506.3,336.3 528.6,338.5 550.9,340.7 589.3,340.7" fill="none" stroke="#ff0000" stroke-width="0.95" stroke-dasharray="6 5" />
<polyline points="329.5,394.1 391.9,368.8 417.0,357.3 438.0,349.3 455.0,343.2 472.0,337.3 500.0,333.1 550.9,327.0 589.3,323.6" fill="none" stroke="#000000" stroke-width="0.92" />
<polyline points="340.6,394.8 391.9,373.0 455.0,353.0 477.3,344.7 506.3,339.6 533.0,344.7 550.9,346.3 589.3,343.4" fill="none" stroke="#ff0000" stroke-width="0.98" />
<rect x="335.0" y="401.4" width="3.2" height="3.2" fill="none" stroke="#0000ff" stroke-width="1.0"/>
<rect x="354.6" y="387.4" width="3.2" height="3.2" fill="none" stroke="#0000ff" stroke-width="1.0"/>
<rect x="362.4" y="395.4" width="3.2" height="3.2" fill="none" stroke="#0000ff" stroke-width="1.0"/>
<rect x="381.8" y="378.0" width="3.2" height="3.2" fill="none" stroke="#0000ff" stroke-width="1.0"/>
<rect x="386.9" y="383.8" width="3.2" height="3.2" fill="none" stroke="#0000ff" stroke-width="1.0"/>
<rect x="411.4" y="366.4" width="3.2" height="3.2" fill="none" stroke="#0000ff" stroke-width="1.0"/>
<rect x="424.8" y="360.7" width="3.2" height="3.2" fill="none" stroke="#0000ff" stroke-width="1.0"/>
<rect x="431.1" y="346.8" width="3.2" height="3.2" fill="none" stroke="#0000ff" stroke-width="1.0"/>
<rect x="437.1" y="355.8" width="3.2" height="3.2" fill="none" stroke="#0000ff" stroke-width="1.0"/>
<rect x="439.3" y="348.4" width="3.2" height="3.2" fill="none" stroke="#0000ff" stroke-width="1.0"/>
<rect x="443.3" y="349.1" width="3.2" height="3.2" fill="none" stroke="#0000ff" stroke-width="1.0"/>
<rect x="443.3" y="355.8" width="3.2" height="3.2" fill="none" stroke="#0000ff" stroke-width="1.0"/>
<rect x="453.4" y="342.4" width="3.2" height="3.2" fill="none" stroke="#0000ff" stroke-width="1.0"/>
<rect x="455.8" y="335.0" width="3.2" height="3.2" fill="none" stroke="#0000ff" stroke-width="1.0"/>
<rect x="458.9" y="341.9" width="3.2" height="3.2" fill="none" stroke="#0000ff" stroke-width="1.0"/>
<rect x="462.1" y="361.3" width="3.2" height="3.2" fill="none" stroke="#0000ff" stroke-width="1.0"/>
<rect x="462.7" y="344.6" width="3.2" height="3.2" fill="none" stroke="#0000ff" stroke-width="1.0"/>
<rect x="455.6" y="335.3" width="3.2" height="3.2" fill="none" stroke="#0000ff" stroke-width="1.0"/>
<rect x="459.6" y="342.4" width="3.2" height="3.2" fill="none" stroke="#0000ff" stroke-width="1.0"/>
<rect x="463.0" y="344.7" width="3.2" height="3.2" fill="none" stroke="#0000ff" stroke-width="1.0"/>
<rect x="461.9" y="361.9" width="3.2" height="3.2" fill="none" stroke="#0000ff" stroke-width="1.0"/>
<rect x="470.3" y="336.9" width="3.2" height="3.2" fill="none" stroke="#0000ff" stroke-width="1.0"/>
<rect x="483.9" y="339.6" width="3.2" height="3.2" fill="none" stroke="#0000ff" stroke-width="1.0"/>
<rect x="531.9" y="309.3" width="3.2" height="3.2" fill="none" stroke="#0000ff" stroke-width="1.0"/>
<line x1="512.5" y1="347.4" x2="512.5" y2="357.7" stroke="#ff0000" stroke-width="0.7" stroke-opacity="0.7"/>
<line x1="525.9" y1="344.0" x2="525.9" y2="351.4" stroke="#ff0000" stroke-width="0.7" stroke-opacity="0.7"/>
<line x1="531.5" y1="332.9" x2="531.5" y2="345.0" stroke="#ff0000" stroke-width="0.7" stroke-opacity="0.7"/>
<line x1="532.1" y1="345.0" x2="532.1" y2="369.3" stroke="#ff0000" stroke-width="0.7" stroke-opacity="0.7"/>
<line x1="534.6" y1="345.0" x2="534.6" y2="361.2" stroke="#ff0000" stroke-width="0.7" stroke-opacity="0.7"/>
<line x1="540.8" y1="345.0" x2="540.8" y2="371.5" stroke="#ff0000" stroke-width="0.7" stroke-opacity="0.7"/>
<line x1="543.9" y1="345.0" x2="543.9" y2="355.9" stroke="#ff0000" stroke-width="0.7" stroke-opacity="0.7"/>
<line x1="546.8" y1="344.0" x2="546.8" y2="352.3" stroke="#ff0000" stroke-width="0.7" stroke-opacity="0.7"/>
<line x1="548.0" y1="344.0" x2="548.0" y2="361.2" stroke="#ff0000" stroke-width="0.7" stroke-opacity="0.7"/>
<line x1="551.3" y1="342.0" x2="551.3" y2="364.1" stroke="#ff0000" stroke-width="0.7" stroke-opacity="0.7"/>
<line x1="552.9" y1="340.7" x2="552.9" y2="383.1" stroke="#ff0000" stroke-width="0.7" stroke-opacity="0.7"/>
<line x1="559.3" y1="340.7" x2="559.3" y2="377.5" stroke="#ff0000" stroke-width="0.7" stroke-opacity="0.7"/>
<line x1="560.4" y1="341.0" x2="560.4" y2="353.4" stroke="#ff0000" stroke-width="0.7" stroke-opacity="0.7"/>
<line x1="565.3" y1="340.7" x2="565.3" y2="361.7" stroke="#ff0000" stroke-width="0.7" stroke-opacity="0.7"/>
<line x1="567.3" y1="329.6" x2="567.3" y2="338.9" stroke="#ff0000" stroke-width="0.7" stroke-opacity="0.7"/>
<line x1="575.2" y1="338.5" x2="575.2" y2="349.0" stroke="#ff0000" stroke-width="0.7" stroke-opacity="0.7"/>
<line x1="579.2" y1="338.5" x2="579.2" y2="360.8" stroke="#ff0000" stroke-width="0.7" stroke-opacity="0.7"/>
<line x1="589.4" y1="339.6" x2="589.4" y2="364.8" stroke="#ff0000" stroke-width="0.7" stroke-opacity="0.7"/>
<line x1="552.6" y1="334.0" x2="552.6" y2="344.0" stroke="#ff0000" stroke-width="0.7" stroke-opacity="0.7"/>
<circle cx="512.5" cy="357.7" r="2.1" fill="#0000ff"/>
<circle cx="525.9" cy="351.4" r="2.1" fill="#0000ff"/>
<circle cx="531.5" cy="332.9" r="2.1" fill="#0000ff"/>
<circle cx="532.1" cy="361.2" r="2.1" fill="#0000ff"/>
<circle cx="532.1" cy="369.3" r="2.1" fill="#0000ff"/>
<circle cx="533.7" cy="342.5" r="2.1" fill="#0000ff"/>
<circle cx="534.6" cy="361.2" r="2.1" fill="#0000ff"/>
<circle cx="535.9" cy="357.0" r="2.1" fill="#0000ff"/>
<circle cx="537.5" cy="340.1" r="2.1" fill="#0000ff"/>
<circle cx="540.8" cy="371.5" r="2.1" fill="#0000ff"/>
<circle cx="544.2" cy="343.4" r="2.1" fill="#0000ff"/>
<circle cx="543.9" cy="355.9" r="2.1" fill="#0000ff"/>
<circle cx="546.8" cy="352.3" r="2.1" fill="#0000ff"/>
<circle cx="548.0" cy="361.2" r="2.1" fill="#0000ff"/>
<circle cx="548.8" cy="351.4" r="2.1" fill="#0000ff"/>
<circle cx="551.3" cy="364.1" r="2.1" fill="#0000ff"/>
<circle cx="552.2" cy="357.0" r="2.1" fill="#0000ff"/>
<circle cx="552.6" cy="334.0" r="2.1" fill="#0000ff"/>
<circle cx="552.9" cy="383.1" r="2.1" fill="#0000ff"/>
<circle cx="559.3" cy="377.5" r="2.1" fill="#0000ff"/>
<circle cx="560.4" cy="353.4" r="2.1" fill="#0000ff"/>
<circle cx="565.3" cy="361.7" r="2.1" fill="#0000ff"/>
<circle cx="567.3" cy="338.9" r="2.1" fill="#0000ff"/>
<circle cx="575.2" cy="349.0" r="2.1" fill="#0000ff"/>
<circle cx="579.2" cy="360.8" r="2.1" fill="#0000ff"/>
<circle cx="589.4" cy="364.8" r="2.1" fill="#0000ff"/>
</g>
<path d="M64.00,23.00 L592.50,23.00 M64.00,418.00 L592.50,418.00 M64.00,22.35 L64.00,418.65 M592.50,22.35 L592.50,418.65 M328.50,23.00 L328.50,418.00 M64.00,154.70 L592.50,154.70 M64.00,286.20 L592.50,286.20 M75.30,23.00 L75.30,29.60 M75.30,418.00 L75.30,411.40 M75.30,148.10 L75.30,161.30 M75.30,279.60 L75.30,292.80 M86.80,23.00 L86.80,26.30 M86.80,418.00 L86.80,414.70 M86.80,151.40 L86.80,158.00 M86.80,282.90 L86.80,289.50 M98.30,23.00 L98.30,26.30 M98.30,418.00 L98.30,414.70 M98.30,151.40 L98.30,158.00 M98.30,282.90 L98.30,289.50 M109.80,23.00 L109.80,26.30 M109.80,418.00 L109.80,414.70 M109.80,151.40 L109.80,158.00 M109.80,282.90 L109.80,289.50 M121.30,23.00 L121.30,26.30 M121.30,418.00 L121.30,414.70 M121.30,151.40 L121.30,158.00 M121.30,282.90 L121.30,289.50 M132.80,23.00 L132.80,29.60 M132.80,418.00 L132.80,411.40 M132.80,148.10 L132.80,161.30 M132.80,279.60 L132.80,292.80 M144.30,23.00 L144.30,26.30 M144.30,418.00 L144.30,414.70 M144.30,151.40 L144.30,158.00 M144.30,282.90 L144.30,289.50 M155.80,23.00 L155.80,26.30 M155.80,418.00 L155.80,414.70 M155.80,151.40 L155.80,158.00 M155.80,282.90 L155.80,289.50 M167.30,23.00 L167.30,26.30 M167.30,418.00 L167.30,414.70 M167.30,151.40 L167.30,158.00 M167.30,282.90 L167.30,289.50 M178.80,23.00 L178.80,26.30 M178.80,418.00 L178.80,414.70 M178.80,151.40 L178.80,158.00 M178.80,282.90 L178.80,289.50 M190.30,23.00 L190.30,29.60 M190.30,418.00 L190.30,411.40 M190.30,148.10 L190.30,161.30 M190.30,279.60 L190.30,292.80 M201.80,23.00 L201.80,26.30 M201.80,418.00 L201.80,414.70 M201.80,151.40 L201.80,158.00 M201.80,282.90 L201.80,289.50 M213.30,23.00 L213.30,26.30 M213.30,418.00 L213.30,414.70 M213.30,151.40 L213.30,158.00 M213.30,282.90 L213.30,289.50 M224.80,23.00 L224.80,26.30 M224.80,418.00 L224.80,414.70 M224.80,151.40 L224.80,158.00 M224.80,282.90 L224.80,289.50 M236.30,23.00 L236.30,26.30 M236.30,418.00 L236.30,414.70 M236.30,151.40 L236.30,158.00 M236.30,282.90 L236.30,289.50 M247.80,23.00 L247.80,29.60 M247.80,418.00 L247.80,411.40 M247.80,148.10 L247.80,161.30 M247.80,279.60 L247.80,292.80 M259.30,23.00 L259.30,26.30 M259.30,418.00 L259.30,414.70 M259.30,151.40 L259.30,158.00 M259.30,282.90 L259.30,289.50 M270.80,23.00 L270.80,26.30 M270.80,418.00 L270.80,414.70 M270.80,151.40 L270.80,158.00 M270.80,282.90 L270.80,289.50 M282.30,23.00 L282.30,26.30 M282.30,418.00 L282.30,414.70 M282.30,151.40 L282.30,158.00 M282.30,282.90 L282.30,289.50 M293.80,23.00 L293.80,26.30 M293.80,418.00 L293.80,414.70 M293.80,151.40 L293.80,158.00 M293.80,282.90 L293.80,289.50 M305.30,23.00 L305.30,29.60 M305.30,418.00 L305.30,411.40 M305.30,148.10 L305.30,161.30 M305.30,279.60 L305.30,292.80 M316.80,23.00 L316.80,26.30 M316.80,418.00 L316.80,414.70 M316.80,151.40 L316.80,158.00 M316.80,282.90 L316.80,289.50 M334.12,23.00 L334.12,26.30 M334.12,418.00 L334.12,414.70 M334.12,151.40 L334.12,158.00 M334.12,282.90 L334.12,289.50 M346.44,23.00 L346.44,26.30 M346.44,418.00 L346.44,414.70 M346.44,151.40 L346.44,158.00 M346.44,282.90 L346.44,289.50 M358.76,23.00 L358.76,26.30 M358.76,418.00 L358.76,414.70 M358.76,151.40 L358.76,158.00 M358.76,282.90 L358.76,289.50 M371.08,23.00 L371.08,26.30 M371.08,418.00 L371.08,414.70 M371.08,151.40 L371.08,158.00 M371.08,282.90 L371.08,289.50 M383.40,23.00 L383.40,29.60 M383.40,418.00 L383.40,411.40 M383.40,148.10 L383.40,161.30 M383.40,279.60 L383.40,292.80 M395.72,23.00 L395.72,26.30 M395.72,418.00 L395.72,414.70 M395.72,151.40 L395.72,158.00 M395.72,282.90 L395.72,289.50 M408.04,23.00 L408.04,26.30 M408.04,418.00 L408.04,414.70 M408.04,151.40 L408.04,158.00 M408.04,282.90 L408.04,289.50 M420.36,23.00 L420.36,26.30 M420.36,418.00 L420.36,414.70 M420.36,151.40 L420.36,158.00 M420.36,282.90 L420.36,289.50 M432.68,23.00 L432.68,26.30 M432.68,418.00 L432.68,414.70 M432.68,151.40 L432.68,158.00 M432.68,282.90 L432.68,289.50 M445.00,23.00 L445.00,29.60 M445.00,418.00 L445.00,411.40 M445.00,148.10 L445.00,161.30 M445.00,279.60 L445.00,292.80 M457.32,23.00 L457.32,26.30 M457.32,418.00 L457.32,414.70 M457.32,151.40 L457.32,158.00 M457.32,282.90 L457.32,289.50 M469.64,23.00 L469.64,26.30 M469.64,418.00 L469.64,414.70 M469.64,151.40 L469.64,158.00 M469.64,282.90 L469.64,289.50 M481.96,23.00 L481.96,26.30 M481.96,418.00 L481.96,414.70 M481.96,151.40 L481.96,158.00 M481.96,282.90 L481.96,289.50 M494.28,23.00 L494.28,26.30 M494.28,418.00 L494.28,414.70 M494.28,151.40 L494.28,158.00 M494.28,282.90 L494.28,289.50 M506.60,23.00 L506.60,29.60 M506.60,418.00 L506.60,411.40 M506.60,148.10 L506.60,161.30 M506.60,279.60 L506.60,292.80 M518.92,23.00 L518.92,26.30 M518.92,418.00 L518.92,414.70 M518.92,151.40 L518.92,158.00 M518.92,282.90 L518.92,289.50 M531.24,23.00 L531.24,26.30 M531.24,418.00 L531.24,414.70 M531.24,151.40 L531.24,158.00 M531.24,282.90 L531.24,289.50 M543.56,23.00 L543.56,26.30 M543.56,418.00 L543.56,414.70 M543.56,151.40 L543.56,158.00 M543.56,282.90 L543.56,289.50 M555.88,23.00 L555.88,26.30 M555.88,418.00 L555.88,414.70 M555.88,151.40 L555.88,158.00 M555.88,282.90 L555.88,289.50 M568.20,23.00 L568.20,29.60 M568.20,418.00 L568.20,411.40 M568.20,148.10 L568.20,161.30 M568.20,279.60 L568.20,292.80 M580.52,23.00 L580.52,26.30 M580.52,418.00 L580.52,414.70 M580.52,151.40 L580.52,158.00 M580.52,282.90 L580.52,289.50 M64.00,149.06 L67.30,149.06 M592.50,149.06 L589.20,149.06 M325.20,149.06 L331.80,149.06 M64.00,143.72 L67.30,143.72 M592.50,143.72 L589.20,143.72 M325.20,143.72 L331.80,143.72 M64.00,138.38 L67.30,138.38 M592.50,138.38 L589.20,138.38 M325.20,138.38 L331.80,138.38 M64.00,133.04 L67.30,133.04 M592.50,133.04 L589.20,133.04 M325.20,133.04 L331.80,133.04 M64.00,127.70 L70.60,127.70 M592.50,127.70 L585.90,127.70 M321.90,127.70 L335.10,127.70 M64.00,122.36 L67.30,122.36 M592.50,122.36 L589.20,122.36 M325.20,122.36 L331.80,122.36 M64.00,117.02 L67.30,117.02 M592.50,117.02 L589.20,117.02 M325.20,117.02 L331.80,117.02 M64.00,111.68 L67.30,111.68 M592.50,111.68 L589.20,111.68 M325.20,111.68 L331.80,111.68 M64.00,106.34 L67.30,106.34 M592.50,106.34 L589.20,106.34 M325.20,106.34 L331.80,106.34 M64.00,101.00 L70.60,101.00 M592.50,101.00 L585.90,101.00 M321.90,101.00 L335.10,101.00 M64.00,95.66 L67.30,95.66 M592.50,95.66 L589.20,95.66 M325.20,95.66 L331.80,95.66 M64.00,90.32 L67.30,90.32 M592.50,90.32 L589.20,90.32 M325.20,90.32 L331.80,90.32 M64.00,84.98 L67.30,84.98 M592.50,84.98 L589.20,84.98 M325.20,84.98 L331.80,84.98 M64.00,79.64 L67.30,79.64 M592.50,79.64 L589.20,79.64 M325.20,79.64 L331.80,79.64 M64.00,74.30 L70.60,74.30 M592.50,74.30 L585.90,74.30 M321.90,74.30 L335.10,74.30 M64.00,68.96 L67.30,68.96 M592.50,68.96 L589.20,68.96 M325.20,68.96 L331.80,68.96 M64.00,63.62 L67.30,63.62 M592.50,63.62 L589.20,63.62 M325.20,63.62 L331.80,63.62 M64.00,58.28 L67.30,58.28 M592.50,58.28 L589.20,58.28 M325.20,58.28 L331.80,58.28 M64.00,52.94 L67.30,52.94 M592.50,52.94 L589.20,52.94 M325.20,52.94 L331.80,52.94 M64.00,47.60 L70.60,47.60 M592.50,47.60 L585.90,47.60 M321.90,47.60 L335.10,47.60 M64.00,42.26 L67.30,42.26 M592.50,42.26 L589.20,42.26 M325.20,42.26 L331.80,42.26 M64.00,36.92 L67.30,36.92 M592.50,36.92 L589.20,36.92 M325.20,36.92 L331.80,36.92 M64.00,31.58 L67.30,31.58 M592.50,31.58 L589.20,31.58 M325.20,31.58 L331.80,31.58 M64.00,26.24 L67.30,26.24 M592.50,26.24 L589.20,26.24 M325.20,26.24 L331.80,26.24 M64.00,282.48 L67.30,282.48 M592.50,282.48 L589.20,282.48 M325.20,282.48 L331.80,282.48 M64.00,274.94 L67.30,274.94 M592.50,274.94 L589.20,274.94 M325.20,274.94 L331.80,274.94 M64.00,267.40 L70.60,267.40 M592.50,267.40 L585.90,267.40 M321.90,267.40 L335.10,267.40 M64.00,259.86 L67.30,259.86 M592.50,259.86 L589.20,259.86 M325.20,259.86 L331.80,259.86 M64.00,252.32 L67.30,252.32 M592.50,252.32 L589.20,252.32 M325.20,252.32 L331.80,252.32 M64.00,244.78 L67.30,244.78 M592.50,244.78 L589.20,244.78 M325.20,244.78 L331.80,244.78 M64.00,237.24 L67.30,237.24 M592.50,237.24 L589.20,237.24 M325.20,237.24 L331.80,237.24 M64.00,229.70 L70.60,229.70 M592.50,229.70 L585.90,229.70 M321.90,229.70 L335.10,229.70 M64.00,222.16 L67.30,222.16 M592.50,222.16 L589.20,222.16 M325.20,222.16 L331.80,222.16 M64.00,214.62 L67.30,214.62 M592.50,214.62 L589.20,214.62 M325.20,214.62 L331.80,214.62 M64.00,207.08 L67.30,207.08 M592.50,207.08 L589.20,207.08 M325.20,207.08 L331.80,207.08 M64.00,199.54 L67.30,199.54 M592.50,199.54 L589.20,199.54 M325.20,199.54 L331.80,199.54 M64.00,192.00 L70.60,192.00 M592.50,192.00 L585.90,192.00 M321.90,192.00 L335.10,192.00 M64.00,184.46 L67.30,184.46 M592.50,184.46 L589.20,184.46 M325.20,184.46 L331.80,184.46 M64.00,176.92 L67.30,176.92 M592.50,176.92 L589.20,176.92 M325.20,176.92 L331.80,176.92 M64.00,169.38 L67.30,169.38 M592.50,169.38 L589.20,169.38 M325.20,169.38 L331.80,169.38 M64.00,161.84 L67.30,161.84 M592.50,161.84 L589.20,161.84 M325.20,161.84 L331.80,161.84 M64.00,414.74 L67.30,414.74 M592.50,414.74 L589.20,414.74 M325.20,414.74 L331.80,414.74 M64.00,409.28 L67.30,409.28 M592.50,409.28 L589.20,409.28 M325.20,409.28 L331.80,409.28 M64.00,403.82 L67.30,403.82 M592.50,403.82 L589.20,403.82 M325.20,403.82 L331.80,403.82 M64.00,398.36 L67.30,398.36 M592.50,398.36 L589.20,398.36 M325.20,398.36 L331.80,398.36 M64.00,392.90 L70.60,392.90 M592.50,392.90 L585.90,392.90 M321.90,392.90 L335.10,392.90 M64.00,387.44 L67.30,387.44 M592.50,387.44 L589.20,387.44 M325.20,387.44 L331.80,387.44 M64.00,381.98 L67.30,381.98 M592.50,381.98 L589.20,381.98 M325.20,381.98 L331.80,381.98 M64.00,376.52 L67.30,376.52 M592.50,376.52 L589.20,376.52 M325.20,376.52 L331.80,376.52 M64.00,371.06 L67.30,371.06 M592.50,371.06 L589.20,371.06 M325.20,371.06 L331.80,371.06 M64.00,365.60 L70.60,365.60 M592.50,365.60 L585.90,365.60 M321.90,365.60 L335.10,365.60 M64.00,360.14 L67.30,360.14 M592.50,360.14 L589.20,360.14 M325.20,360.14 L331.80,360.14 M64.00,354.68 L67.30,354.68 M592.50,354.68 L589.20,354.68 M325.20,354.68 L331.80,354.68 M64.00,349.22 L67.30,349.22 M592.50,349.22 L589.20,349.22 M325.20,349.22 L331.80,349.22 M64.00,343.76 L67.30,343.76 M592.50,343.76 L589.20,343.76 M325.20,343.76 L331.80,343.76 M64.00,338.30 L70.60,338.30 M592.50,338.30 L585.90,338.30 M321.90,338.30 L335.10,338.30 M64.00,332.84 L67.30,332.84 M592.50,332.84 L589.20,332.84 M325.20,332.84 L331.80,332.84 M64.00,327.38 L67.30,327.38 M592.50,327.38 L589.20,327.38 M325.20,327.38 L331.80,327.38 M64.00,321.92 L67.30,321.92 M592.50,321.92 L589.20,321.92 M325.20,321.92 L331.80,321.92 M64.00,316.46 L67.30,316.46 M592.50,316.46 L589.20,316.46 M325.20,316.46 L331.80,316.46 M64.00,311.00 L70.60,311.00 M592.50,311.00 L585.90,311.00 M321.90,311.00 L335.10,311.00 M64.00,305.54 L67.30,305.54 M592.50,305.54 L589.20,305.54 M325.20,305.54 L331.80,305.54 M64.00,300.08 L67.30,300.08 M592.50,300.08 L589.20,300.08 M325.20,300.08 L331.80,300.08 M64.00,294.62 L67.30,294.62 M592.50,294.62 L589.20,294.62 M325.20,294.62 L331.80,294.62 M64.00,289.16 L67.30,289.16 M592.50,289.16 L589.20,289.16 M325.20,289.16 L331.80,289.16" stroke="#000" stroke-width="1.35" fill="none"/>
<text transform="translate(56.3,52.4) scale(1.130,1)" font-family="'Liberation Sans',sans-serif" font-size="14.0" text-anchor="end" fill="#000">8</text>
<text transform="translate(56.3,79.1) scale(1.130,1)" font-family="'Liberation Sans',sans-serif" font-size="14.0" text-anchor="end" fill="#000">7</text>
<text transform="translate(56.3,105.8) scale(1.130,1)" font-family="'Liberation Sans',sans-serif" font-size="14.0" text-anchor="end" fill="#000">6</text>
<text transform="translate(56.3,132.5) scale(1.130,1)" font-family="'Liberation Sans',sans-serif" font-size="14.0" text-anchor="end" fill="#000">5</text>
<text transform="translate(56.3,196.8) scale(1.130,1)" font-family="'Liberation Sans',sans-serif" font-size="14.0" text-anchor="end" fill="#000">2</text>
<text transform="translate(56.3,234.5) scale(1.130,1)" font-family="'Liberation Sans',sans-serif" font-size="14.0" text-anchor="end" fill="#000">1</text>
<text transform="translate(56.3,272.2) scale(1.130,1)" font-family="'Liberation Sans',sans-serif" font-size="14.0" text-anchor="end" fill="#000">0</text>
<text transform="translate(56.3,315.8) scale(1.130,1)" font-family="'Liberation Sans',sans-serif" font-size="14.0" text-anchor="end" fill="#000">9</text>
<text transform="translate(56.3,343.1) scale(1.130,1)" font-family="'Liberation Sans',sans-serif" font-size="14.0" text-anchor="end" fill="#000">8</text>
<text transform="translate(56.3,370.4) scale(1.130,1)" font-family="'Liberation Sans',sans-serif" font-size="14.0" text-anchor="end" fill="#000">7</text>
<text transform="translate(56.3,397.7) scale(1.130,1)" font-family="'Liberation Sans',sans-serif" font-size="14.0" text-anchor="end" fill="#000">6</text>
<text transform="translate(75.3,433.6) scale(1.130,1)" font-family="'Liberation Sans',sans-serif" font-size="14.0" text-anchor="middle" fill="#000">0</text>
<text transform="translate(132.8,433.6) scale(1.130,1)" font-family="'Liberation Sans',sans-serif" font-size="14.0" text-anchor="middle" fill="#000">5</text>
<text transform="translate(190.3,433.6) scale(1.130,1)" font-family="'Liberation Sans',sans-serif" font-size="14.0" text-anchor="middle" fill="#000">10</text>
<text transform="translate(247.8,433.6) scale(1.130,1)" font-family="'Liberation Sans',sans-serif" font-size="14.0" text-anchor="middle" fill="#000">15</text>
<text transform="translate(305.3,433.6) scale(1.130,1)" font-family="'Liberation Sans',sans-serif" font-size="14.0" text-anchor="middle" fill="#000">20</text>
<text transform="translate(383.4,433.6) scale(1.130,1)" font-family="'Liberation Sans',sans-serif" font-size="14.0" text-anchor="middle" fill="#000">−1</text>
<text transform="translate(445.0,433.6) scale(1.130,1)" font-family="'Liberation Sans',sans-serif" font-size="14.0" text-anchor="middle" fill="#000">−0.5</text>
<text transform="translate(506.6,433.6) scale(1.130,1)" font-family="'Liberation Sans',sans-serif" font-size="14.0" text-anchor="middle" fill="#000">0</text>
<text transform="translate(568.2,433.6) scale(1.130,1)" font-family="'Liberation Sans',sans-serif" font-size="14.0" text-anchor="middle" fill="#000">0.5</text>
<text transform="translate(196.6,449.3) scale(1.130,1)" font-family="'Liberation Serif',serif" font-size="14.8" text-anchor="middle" fill="#000" stroke="#000" stroke-width="0.2">t<tspan dx="3.2"> (Gyr)</tspan></text>
<text transform="translate(460.5,449.3) scale(1.160,1)" font-family="'Liberation Serif',serif" font-size="14.8" text-anchor="middle" fill="#000" stroke="#000" stroke-width="0.2">[Z/H]</text>
<text transform="translate(41.2,90.0) rotate(-90) scale(1.080,1)" font-family="'Liberation Serif',serif" font-size="14.6" text-anchor="middle" fill="#000" stroke="#000" stroke-width="0.1">CaT*</text>
<text transform="translate(41.2,220.3) rotate(-90) scale(1.050,1)" font-family="'Liberation Serif',serif" font-size="14.6" text-anchor="middle" fill="#000" stroke="#000" stroke-width="0.1">PaT</text>
<text transform="translate(41.2,352.0) rotate(-90) scale(1.050,1)" font-family="'Liberation Serif',serif" font-size="14.6" text-anchor="middle" fill="#000" stroke="#000" stroke-width="0.1">CaT</text>
<text transform="translate(355.0,42.8) scale(1.200,1)" font-family="'Liberation Sans',sans-serif" font-size="11.8" text-anchor="start" fill="#ff0000" stroke="#ff0000" stroke-width="0.2">Δ=−0.40±0.33</text>
<text transform="translate(355.0,56.2) scale(1.200,1)" font-family="'Liberation Sans',sans-serif" font-size="11.8" text-anchor="start" fill="#00ff00" opacity="0.72">Δ=−0.49±0.49</text>
<text transform="translate(355.0,69.6) scale(1.200,1)" font-family="'Liberation Sans',sans-serif" font-size="11.8" text-anchor="start" fill="#000000" stroke="#000000" stroke-width="0.2">Δ=−1.09±0.38</text>
<text transform="translate(355.0,173.9) scale(1.200,1)" font-family="'Liberation Sans',sans-serif" font-size="11.8" text-anchor="start" fill="#ff0000" stroke="#ff0000" stroke-width="0.2">Δ=−0.15±0.31</text>
<text transform="translate(355.0,187.3) scale(1.200,1)" font-family="'Liberation Sans',sans-serif" font-size="11.8" text-anchor="start" fill="#00ff00" opacity="0.72">Δ=−0.00±0.31</text>
<text transform="translate(355.0,200.8) scale(1.200,1)" font-family="'Liberation Sans',sans-serif" font-size="11.8" text-anchor="start" fill="#000000" stroke="#000000" stroke-width="0.2">Δ=−0.07±0.32</text>
<text transform="translate(355.0,305.9) scale(1.200,1)" font-family="'Liberation Sans',sans-serif" font-size="11.8" text-anchor="start" fill="#ff0000" stroke="#ff0000" stroke-width="0.2">Δ=−0.54±0.41</text>
<text transform="translate(355.0,318.9) scale(1.200,1)" font-family="'Liberation Sans',sans-serif" font-size="11.8" text-anchor="start" fill="#00ff00" opacity="0.72">Δ=−0.49±0.49</text>
<text transform="translate(355.0,332.4) scale(1.200,1)" font-family="'Liberation Sans',sans-serif" font-size="11.8" text-anchor="start" fill="#000000" stroke="#000000" stroke-width="0.2">Δ=−1.16±0.44</text>
<text transform="translate(224.6,179.0) scale(1.130,1)" font-family="'Liberation Sans',sans-serif" font-size="14.0" text-anchor="start" fill="#000">−1.35</text>
<text transform="translate(285.7,179.0) scale(1.130,1)" font-family="'Liberation Sans',sans-serif" font-size="14.0" text-anchor="end" fill="#000">3</text>
<text transform="translate(224.6,192.4) scale(1.130,1)" font-family="'Liberation Sans',sans-serif" font-size="14.0" text-anchor="start" fill="#000">−0.33</text>
<text transform="translate(285.7,192.4) scale(1.130,1)" font-family="'Liberation Sans',sans-serif" font-size="14.0" text-anchor="end" fill="#000">9</text>
<text transform="translate(231.0,205.6) scale(1.130,1)" font-family="'Liberation Sans',sans-serif" font-size="14.0" text-anchor="start" fill="#000">0.67</text>
<text transform="translate(282.8,205.6) scale(1.130,1)" font-family="'Liberation Sans',sans-serif" font-size="14.0" text-anchor="end" fill="#000">15</text>
</svg>
</body></html>
